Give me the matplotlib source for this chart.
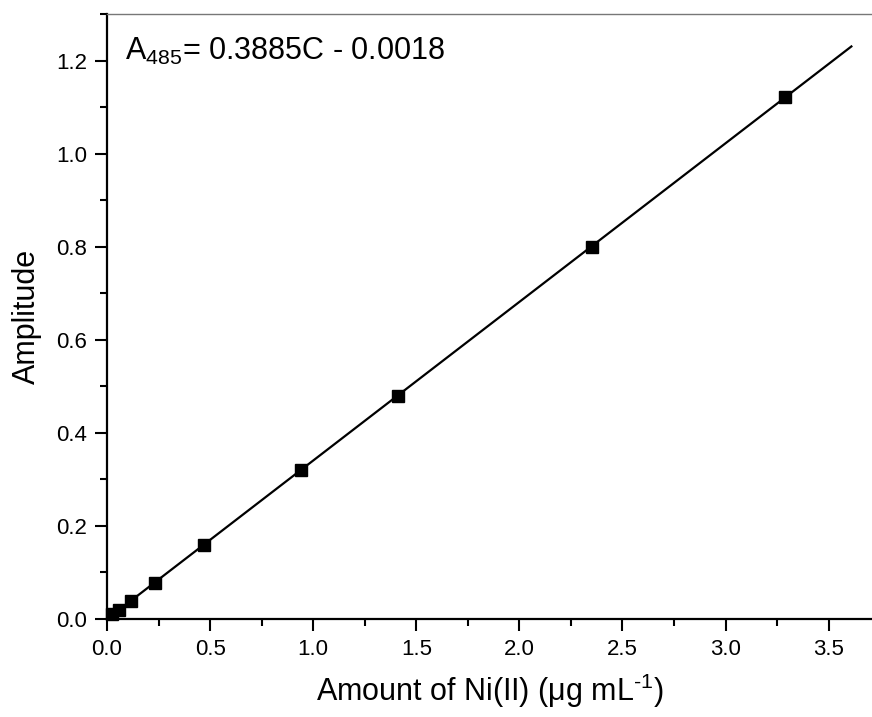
import numpy as np
import matplotlib.pyplot as plt
from matplotlib.ticker import MultipleLocator

plt.rcParams["font.family"] = ["Liberation Sans", "DejaVu Sans"]
plt.rcParams["mathtext.fontset"] = "custom"
plt.rcParams["mathtext.rm"] = "Liberation Sans"
plt.rcParams["mathtext.it"] = "Liberation Sans"

# calibration data
conc = [0.0235, 0.058, 0.117, 0.235, 0.47, 0.94, 1.41, 2.35, 3.29]
amp = [0.011, 0.019, 0.039, 0.078, 0.159, 0.32, 0.48, 0.80, 1.122]
fit_range = [0.0235, 3.61]
equation = r"A$_{485}$= 0.3885C - 0.0018"

slope, intercept = np.polyfit(conc, amp, 1)
fit_x = np.array(fit_range)
fit_y = slope * fit_x + intercept

fig = plt.figure(figsize=(8.72, 7.17), dpi=100)
ax = fig.add_axes([0.1227, 0.1367, 0.8773, 0.8438])

ax.plot(fit_x, fit_y, "k-", lw=1.6, zorder=2)
ax.plot(conc, amp, "ks", ms=8.5, zorder=3, clip_on=False)

ax.set_xlim(0, 3.71)
ax.set_ylim(0, 1.30)
ax.xaxis.set_major_locator(MultipleLocator(0.5))
ax.xaxis.set_minor_locator(MultipleLocator(0.25))
ax.yaxis.set_major_locator(MultipleLocator(0.2))
ax.yaxis.set_minor_locator(MultipleLocator(0.1))
ax.xaxis.set_major_formatter(lambda v, p: f"{v:.1f}")
ax.yaxis.set_major_formatter(lambda v, p: f"{v:.1f}")

ax.tick_params(which="major", direction="out", length=8.5, width=1.5,
               labelsize=16, pad=6)
ax.tick_params(which="minor", direction="out", length=5, width=1.5)
ax.tick_params(top=False, right=False)

for side in ["left", "bottom"]:
    ax.spines[side].set_linewidth(1.6)
ax.spines["right"].set_visible(False)
ax.spines["top"].set_color("#777777")
ax.spines["top"].set_linewidth(1.0)

ax.set_xlabel(r"Amount of Ni(II) ($\mathrm{\mu}$g mL$^{\text{-1}}$)", fontsize=22, labelpad=8)
ax.set_ylabel("Amplitude", fontsize=22, labelpad=10)

ax.text(0.0235, 0.924, equation, transform=ax.transAxes, fontsize=22,
        ha="left", va="baseline")

fig.savefig("out.png", dpi=100)
